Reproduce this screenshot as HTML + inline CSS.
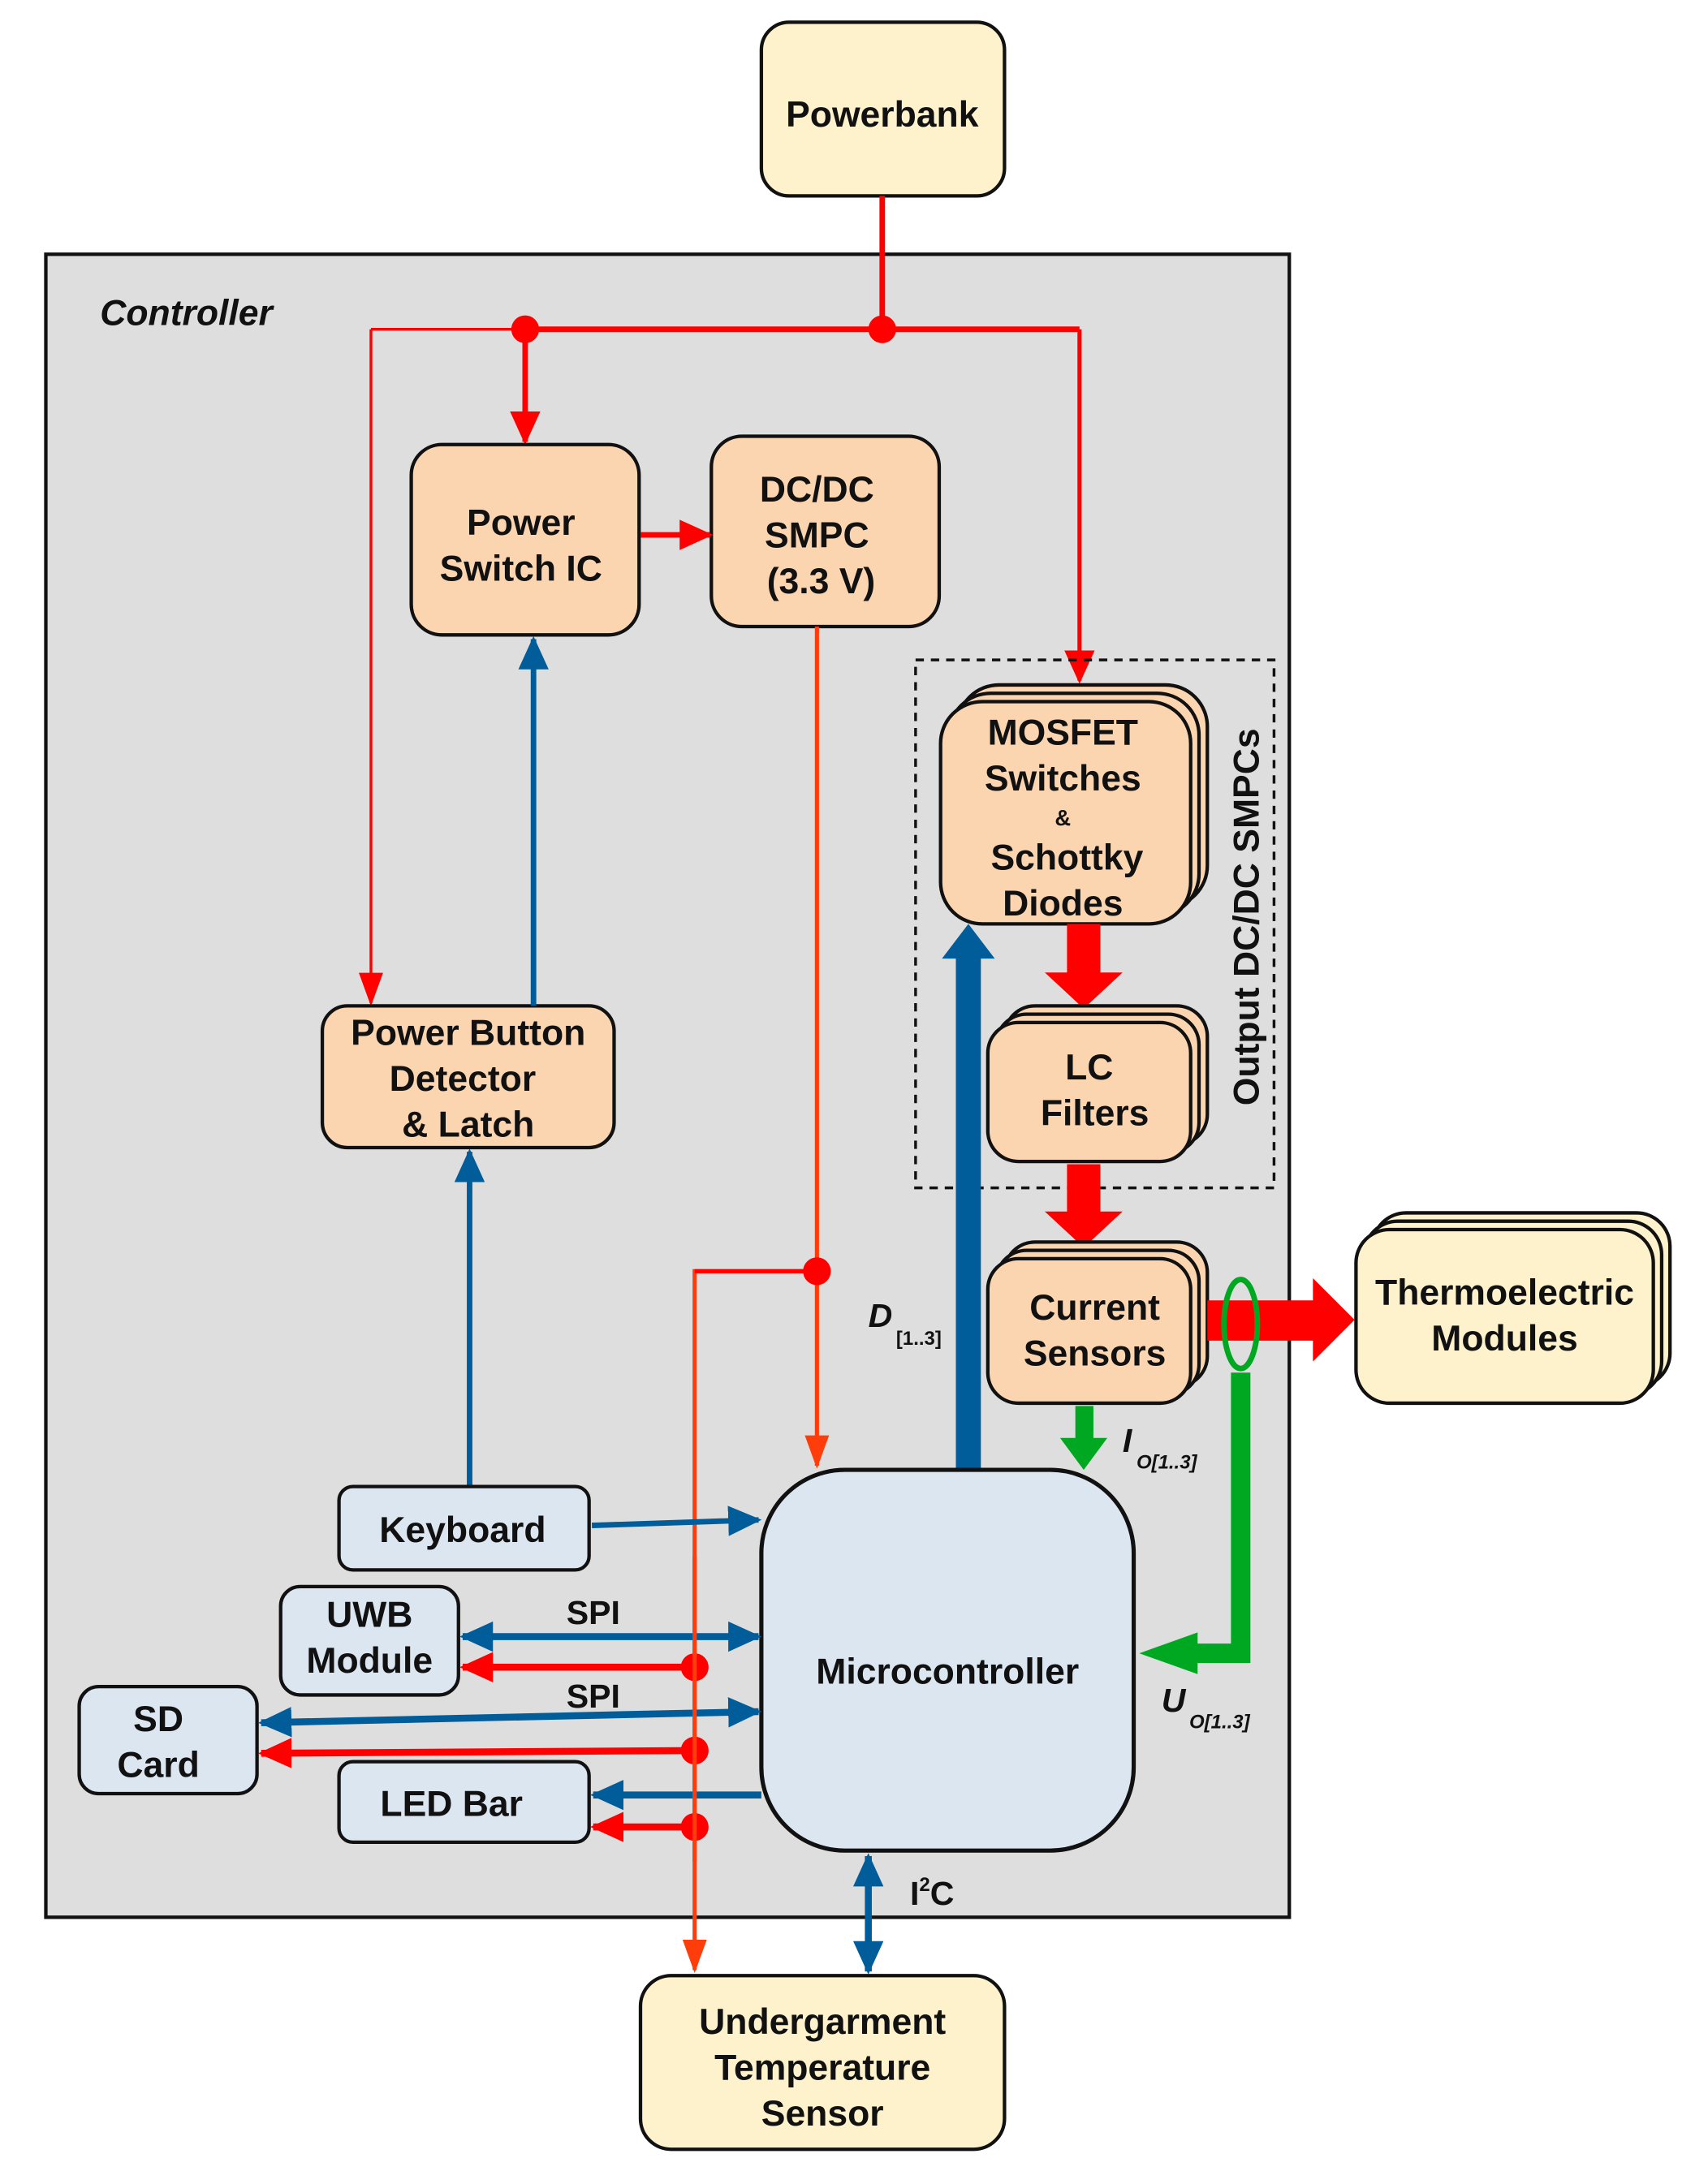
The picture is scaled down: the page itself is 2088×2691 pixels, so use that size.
<!DOCTYPE html>
<html><head><meta charset="utf-8"><style>
html,body{margin:0;padding:0;background:#fff;}
svg{display:block;}
text{font-family:"Liberation Sans",Arial,sans-serif;font-weight:bold;fill:#111;}
</style></head><body>
<svg width="2088" height="2691" viewBox="0 0 1220 1572" preserveAspectRatio="none" xmlns="http://www.w3.org/2000/svg">
<defs>
<marker id="aR" markerUnits="userSpaceOnUse" markerWidth="24" markerHeight="24" refX="20" refY="10" orient="auto-start-reverse" viewBox="0 0 22 20"><path d="M0,0 L22,10 L0,20 Z" fill="#ff0000"/></marker>
<marker id="aB" markerUnits="userSpaceOnUse" markerWidth="24" markerHeight="24" refX="20" refY="10" orient="auto-start-reverse" viewBox="0 0 22 20"><path d="M0,0 L22,10 L0,20 Z" fill="#005d99"/></marker>
<marker id="aO" markerUnits="userSpaceOnUse" markerWidth="24" markerHeight="24" refX="20" refY="8" orient="auto-start-reverse" viewBox="0 0 22 16"><path d="M0,0 L22,8 L0,16 Z" fill="#ff3d0a"/></marker>
<marker id="aRt" markerUnits="userSpaceOnUse" markerWidth="24" markerHeight="24" refX="20" refY="8" orient="auto-start-reverse" viewBox="0 0 22 16"><path d="M0,0 L22,8 L0,16 Z" fill="#ff0000"/></marker>
</defs>

<!-- Controller -->
<rect x="33" y="183" width="895" height="1197" fill="#dedede" stroke="#111" stroke-width="2.5"/>
<text x="72" y="234" font-size="26" font-style="italic">Controller</text>

<!-- Powerbank -->
<rect x="548" y="16" width="175" height="125" rx="20" fill="#fdf2cc" stroke="#111" stroke-width="2.5"/>
<text x="635" y="91" font-size="26" text-anchor="middle">Powerbank</text>

<!-- power lines -->
<line x1="635" y1="141" x2="635" y2="237" stroke="#ff0000" stroke-width="4"/>
<line x1="378" y1="237" x2="777" y2="237" stroke="#ff0000" stroke-width="4"/>
<line x1="267" y1="237" x2="378" y2="237" stroke="#ff0000" stroke-width="2"/>
<circle cx="378" cy="237" r="10" fill="#ff0000"/>
<circle cx="635" cy="237" r="10" fill="#ff0000"/>
<line x1="378" y1="237" x2="378" y2="318" stroke="#ff0000" stroke-width="4" marker-end="url(#aR)"/>
<line x1="267" y1="237" x2="267" y2="722" stroke="#ff0000" stroke-width="2" marker-end="url(#aRt)"/>
<line x1="777" y1="237" x2="777" y2="490" stroke="#ff0000" stroke-width="3" marker-end="url(#aR)"/>

<!-- Power Switch IC -->
<rect x="296" y="320" width="164" height="137" rx="22" fill="#fbd5b0" stroke="#111" stroke-width="2.5"/>
<text x="375" y="385" font-size="26" text-anchor="middle">Power</text>
<text x="375" y="418" font-size="26" text-anchor="middle">Switch IC</text>
<!-- DC/DC -->
<rect x="512" y="314" width="164" height="137" rx="22" fill="#fbd5b0" stroke="#111" stroke-width="2.5"/>
<text x="588" y="361" font-size="26" text-anchor="middle">DC/DC</text>
<text x="588" y="394" font-size="26" text-anchor="middle">SMPC</text>
<text x="591" y="427" font-size="26" text-anchor="middle">(3.3 V)</text>
<line x1="461" y1="385" x2="511" y2="385" stroke="#ff0000" stroke-width="4" marker-end="url(#aR)"/>

<!-- orange lines -->
<line x1="588" y1="451" x2="588" y2="1055" stroke="#ff3d0a" stroke-width="3" marker-end="url(#aO)"/>
<polyline points="588,915 500,915 500,1418" fill="none" stroke="#ff3d0a" stroke-width="3" marker-end="url(#aO)"/>
<line x1="588" y1="915" x2="500" y2="915" stroke="#ff0000" stroke-width="3"/>
<circle cx="588" cy="915" r="10" fill="#ff0000"/>

<!-- dashed group -->
<rect x="659" y="475" width="258" height="380" fill="none" stroke="#111" stroke-width="2" stroke-dasharray="6,5"/>
<text transform="translate(906,660) rotate(-90)" font-size="26" text-anchor="middle">Output DC/DC SMPCs</text>

<!-- MOSFET stack -->
<rect x="689" y="493" width="180" height="160" rx="30" fill="#fbd5b0" stroke="#111" stroke-width="2.5"/>
<rect x="683" y="499" width="180" height="160" rx="30" fill="#fbd5b0" stroke="#111" stroke-width="2.5"/>
<rect x="677" y="505" width="180" height="160" rx="30" fill="#fbd5b0" stroke="#111" stroke-width="2.5"/>
<text x="765" y="536" font-size="26" text-anchor="middle">MOSFET</text>
<text x="765" y="569" font-size="26" text-anchor="middle">Switches</text>
<text x="765" y="594" font-size="16" text-anchor="middle">&amp;</text>
<text x="768" y="626" font-size="26" text-anchor="middle">Schottky</text>
<text x="765" y="659" font-size="26" text-anchor="middle">Diodes</text>

<!-- red thick arrows -->
<polygon points="768,665 792,665 792,700 808,700 780,726 752,700 768,700" fill="#ff0000"/>
<!-- LC stack -->
<rect x="723" y="724" width="146" height="100" rx="22" fill="#fbd5b0" stroke="#111" stroke-width="2.5"/>
<rect x="717" y="730" width="146" height="100" rx="22" fill="#fbd5b0" stroke="#111" stroke-width="2.5"/>
<rect x="711" y="736" width="146" height="100" rx="22" fill="#fbd5b0" stroke="#111" stroke-width="2.5"/>
<text x="784" y="777" font-size="26" text-anchor="middle">LC</text>
<text x="788" y="810" font-size="26" text-anchor="middle">Filters</text>

<polygon points="768,838 792,838 792,872 808,872 780,898 752,872 768,872" fill="#ff0000"/>

<!-- Current sensors -->
<rect x="723" y="894" width="146" height="104" rx="22" fill="#fbd5b0" stroke="#111" stroke-width="2.5"/>
<rect x="717" y="900" width="146" height="104" rx="22" fill="#fbd5b0" stroke="#111" stroke-width="2.5"/>
<rect x="711" y="906" width="146" height="104" rx="22" fill="#fbd5b0" stroke="#111" stroke-width="2.5"/>
<text x="788" y="950" font-size="26" text-anchor="middle">Current</text>
<text x="788" y="983" font-size="26" text-anchor="middle">Sensors</text>

<!-- red to thermo -->
<polygon points="869,936 945,936 945,920 975,950 945,980 945,965 869,965" fill="#ff0000"/>
<!-- Thermoelectric -->
<rect x="988" y="873" width="214" height="125" rx="24" fill="#fdf2cc" stroke="#111" stroke-width="2.5"/>
<rect x="982" y="879" width="214" height="125" rx="24" fill="#fdf2cc" stroke="#111" stroke-width="2.5"/>
<rect x="976" y="885" width="214" height="125" rx="24" fill="#fdf2cc" stroke="#111" stroke-width="2.5"/>
<text x="1083" y="939" font-size="26" text-anchor="middle">Thermoelectric</text>
<text x="1083" y="972" font-size="26" text-anchor="middle">Modules</text>

<!-- green -->
<ellipse cx="893" cy="953" rx="12" ry="32" fill="none" stroke="#00a822" stroke-width="4"/>
<polyline points="893,988 893,1190 860,1190" fill="none" stroke="#00a822" stroke-width="14"/>
<polygon points="862,1175 862,1205 820,1190" fill="#00a822"/>
<polygon points="774,1012 787,1012 787,1035 797,1035 780,1058 763,1035 774,1035" fill="#00a822"/>

<!-- blue D arrow -->
<polygon points="688,1058 706,1058 706,690 716,690 697,665 678,690 688,690" fill="#005d99"/>
<text x="625" y="955" font-size="24" font-style="italic">D</text>
<text x="645" y="968" font-size="14">[1..3]</text>
<text x="808" y="1045" font-size="24" font-style="italic">I</text>
<text x="818" y="1057" font-size="14" font-style="italic">O[1..3]</text>
<text x="836" y="1232" font-size="24" font-style="italic">U</text>
<text x="856" y="1244" font-size="14" font-style="italic">O[1..3]</text>

<!-- Power Button -->
<rect x="232" y="724" width="210" height="102" rx="18" fill="#fbd5b0" stroke="#111" stroke-width="2.5"/>
<text x="337" y="752" font-size="26" text-anchor="middle">Power Button</text>
<text x="333" y="785" font-size="26" text-anchor="middle">Detector</text>
<text x="337" y="818" font-size="26" text-anchor="middle">&amp; Latch</text>
<line x1="384" y1="724" x2="384" y2="460" stroke="#005d99" stroke-width="4" marker-end="url(#aB)"/>
<line x1="338" y1="1070" x2="338" y2="829" stroke="#005d99" stroke-width="4" marker-end="url(#aB)"/>

<!-- Microcontroller -->
<rect x="548" y="1058" width="268" height="274" rx="60" fill="#dce6f0" stroke="#111" stroke-width="3"/>
<text x="682" y="1212" font-size="26" text-anchor="middle">Microcontroller</text>

<!-- Keyboard -->
<rect x="244" y="1070" width="180" height="60" rx="10" fill="#dce6f0" stroke="#111" stroke-width="2.5"/>
<text x="333" y="1110" font-size="26" text-anchor="middle">Keyboard</text>
<line x1="426" y1="1098" x2="546" y2="1094" stroke="#005d99" stroke-width="4" marker-end="url(#aB)"/>

<!-- UWB -->
<rect x="202" y="1142" width="128" height="78" rx="14" fill="#dce6f0" stroke="#111" stroke-width="2.5"/>
<text x="266" y="1171" font-size="26" text-anchor="middle">UWB</text>
<text x="266" y="1204" font-size="26" text-anchor="middle">Module</text>
<line x1="333" y1="1178" x2="546" y2="1178" stroke="#005d99" stroke-width="5" marker-start="url(#aB)" marker-end="url(#aB)"/>
<line x1="500" y1="1200" x2="333" y2="1200" stroke="#ff0000" stroke-width="5" marker-end="url(#aR)"/>
<text x="427" y="1169" font-size="24" text-anchor="middle">SPI</text>

<!-- SD -->
<rect x="57" y="1214" width="128" height="77" rx="14" fill="#dce6f0" stroke="#111" stroke-width="2.5"/>
<text x="114" y="1246" font-size="26" text-anchor="middle">SD</text>
<text x="114" y="1279" font-size="26" text-anchor="middle">Card</text>
<line x1="188" y1="1240" x2="546" y2="1232" stroke="#005d99" stroke-width="5" marker-start="url(#aB)" marker-end="url(#aB)"/>
<line x1="500" y1="1260" x2="188" y2="1262" stroke="#ff0000" stroke-width="5" marker-end="url(#aR)"/>
<text x="427" y="1229" font-size="24" text-anchor="middle">SPI</text>

<!-- LED -->
<rect x="244" y="1268" width="180" height="58" rx="10" fill="#dce6f0" stroke="#111" stroke-width="2.5"/>
<text x="325" y="1307" font-size="26" text-anchor="middle">LED Bar</text>
<line x1="548" y1="1292" x2="427" y2="1292" stroke="#005d99" stroke-width="5" marker-end="url(#aB)"/>
<line x1="500" y1="1315" x2="427" y2="1315" stroke="#ff0000" stroke-width="5" marker-end="url(#aR)"/>

<circle cx="500" cy="1200" r="10" fill="#ff0000"/>
<circle cx="500" cy="1260" r="10" fill="#ff0000"/>
<circle cx="500" cy="1315" r="10" fill="#ff0000"/>
<line x1="500" y1="1120" x2="500" y2="1340" stroke="#ff3d0a" stroke-width="3"/>

<!-- I2C -->
<line x1="625" y1="1336" x2="625" y2="1419" stroke="#005d99" stroke-width="5" marker-start="url(#aB)" marker-end="url(#aB)"/>
<text x="655" y="1371" font-size="24">I<tspan font-size="14" dy="-10">2</tspan><tspan dy="10">C</tspan></text>

<!-- Undergarment -->
<rect x="461" y="1422" width="262" height="125" rx="22" fill="#fdf2cc" stroke="#111" stroke-width="2.5"/>
<text x="592" y="1464" font-size="26" text-anchor="middle">Undergarment</text>
<text x="592" y="1497" font-size="26" text-anchor="middle">Temperature</text>
<text x="592" y="1530" font-size="26" text-anchor="middle">Sensor</text>
</svg>
</body></html>
